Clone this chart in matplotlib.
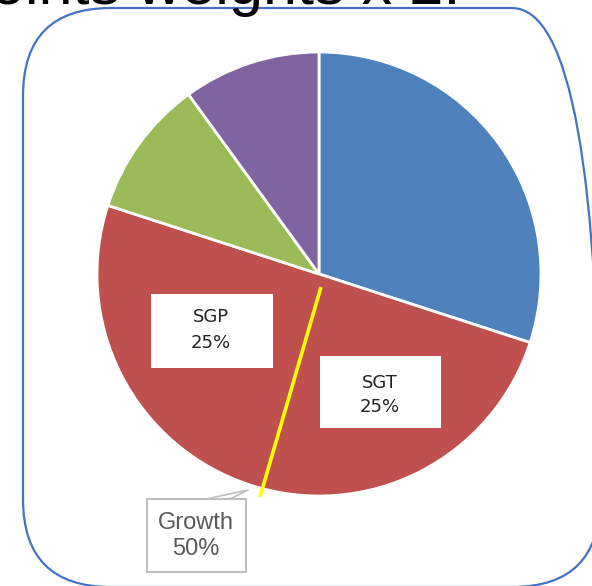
import matplotlib
matplotlib.use("Agg")
import matplotlib.pyplot as plt
from matplotlib.patches import FancyBboxPatch, Rectangle

# data
slice_values = [30, 50, 10, 10]
slice_colors = ['#4F81BD', '#C0504D', '#9BBB59', '#8064A2']
label_names = ['SGP', 'SGT', 'Growth']
label_pcts = [25, 25, 50]
title_text = "Points weights x 2."

W, H = 592, 586
fig = plt.figure(figsize=(W / 100, H / 100), dpi=100)
ax = fig.add_axes([0, 0, 1, 1])


def Y(y):
    return H - y


# pie
ax.pie(slice_values, colors=slice_colors, startangle=90, counterclock=False,
       center=(319, Y(274)), radius=222,
       wedgeprops=dict(edgecolor='white', linewidth=2))

ax.set_xlim(0, W)
ax.set_ylim(0, H)
ax.set_aspect('equal')
ax.axis('off')

# rounded frame
frame = FancyBboxPatch((23, Y(587)), 577, 579,
                       boxstyle="round,pad=0,rounding_size=88",
                       facecolor='none', edgecolor='#4472C4', linewidth=1.6,
                       clip_on=False, zorder=1)
ax.add_patch(frame)

# title (cut off at top)
ax.text(460, Y(4), title_text, ha='right', va='baseline', fontsize=44,
        family='Liberation Sans', color='black')

# yellow divider
ax.plot([321, 260], [Y(287), Y(497)], color='#FFFF00', linewidth=2.6,
        solid_capstyle='butt', zorder=5)

# SGP box
ax.add_patch(Rectangle((151, Y(368)), 122, 74, facecolor='white',
                       edgecolor='none', zorder=6))
ax.text(211, Y(330), f"{label_names[0]}\n{label_pcts[0]}%", ha='center',
        va='center', fontsize=13, family='DejaVu Sans', color='#222222',
        linespacing=1.5, zorder=7)

# SGT box
ax.add_patch(Rectangle((320, Y(428)), 121, 72, facecolor='white',
                       edgecolor='none', zorder=6))
ax.text(380, Y(395), f"{label_names[1]}\n{label_pcts[1]}%", ha='center',
        va='center', fontsize=13, family='DejaVu Sans', color='#222222',
        linespacing=1.5, zorder=7)

# Growth callout
ax.add_patch(Rectangle((147, Y(572)), 99, 73, facecolor='white',
                       edgecolor='#BFBFBF', linewidth=1.5, zorder=6))
ax.plot([206, 248, 230], [Y(499), Y(490), Y(499)], color='#BFBFBF',
        linewidth=1.2, zorder=6)
ax.text(196, Y(536), f"{label_names[2]}\n{label_pcts[2]}%", ha='center',
        va='center', fontsize=17, family='Liberation Sans', color='#595959',
        linespacing=1.25, zorder=7)

fig.savefig("out.png", dpi=100)
